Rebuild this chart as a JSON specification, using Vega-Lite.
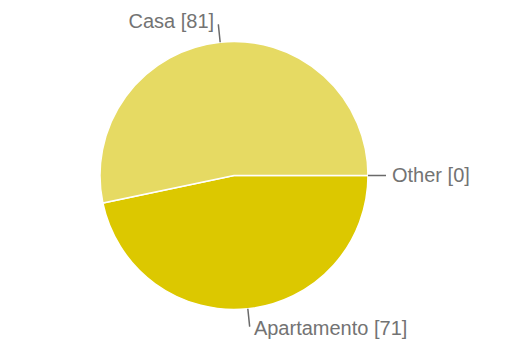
{
  "$schema": "https://vega.github.io/schema/vega-lite/v6.json",
  "width": 468,
  "height": 351,
  "autosize": {"type": "none"},
  "padding": {"left": 0, "top": 0, "right": 61, "bottom": 0},
  "background": "white",
  "config": {"view": {"stroke": null}},
  "data": {"values": [
    {"category": "Other", "label": "Other [0]", "count": 0},
    {"category": "Apartamento", "label": "Apartamento [71]", "count": 71},
    {"category": "Casa", "label": "Casa [81]", "count": 81}
  ]},
  "transform": [
    {"stack": "count", "as": ["start", "end"], "groupby": [], "sort": [{"field": "count", "order": "ascending"}]},
    {"calculate": "(datum.start + datum.end) / 2", "as": "mid"}
  ],
  "layer": [
    {
      "mark": {"type": "arc", "outerRadius": 134, "stroke": "white", "strokeWidth": 1.5},
      "encoding": {
        "theta": {"field": "start", "type": "quantitative", "stack": null, "scale": {"domain": [0, 152], "range": [1.5708, 7.8540], "nice": false}},
        "theta2": {"field": "end"},
        "color": {"field": "category", "type": "nominal", "legend": null,
          "scale": {"domain": ["Other", "Apartamento", "Casa"], "range": ["#DCC800", "#DCC800", "#E6DA63"]}}
      }
    },
    {
      "mark": {"type": "arc", "radius": 152, "radius2": 134, "fill": null, "stroke": "#6a6a6a", "strokeWidth": 1.5},
      "encoding": {
        "theta": {"field": "mid", "type": "quantitative", "stack": null},
        "theta2": {"field": "mid"}
      }
    },
    {
      "transform": [{"filter": "datum.category === 'Casa'"}],
      "mark": {"type": "text", "radius": 154, "align": "right", "baseline": "middle", "dx": -4, "font": "Liberation Sans", "fontSize": 20, "color": "#737373"},
      "encoding": {
        "theta": {"field": "mid", "type": "quantitative", "stack": null},
        "text": {"field": "label"}
      }
    },
    {
      "transform": [{"filter": "datum.category !== 'Casa'"}],
      "mark": {"type": "text", "radius": 154, "align": "left", "baseline": "middle", "dx": 4, "font": "Liberation Sans", "fontSize": 20, "color": "#737373"},
      "encoding": {
        "theta": {"field": "mid", "type": "quantitative", "stack": null},
        "text": {"field": "label"}
      }
    }
  ]
}
